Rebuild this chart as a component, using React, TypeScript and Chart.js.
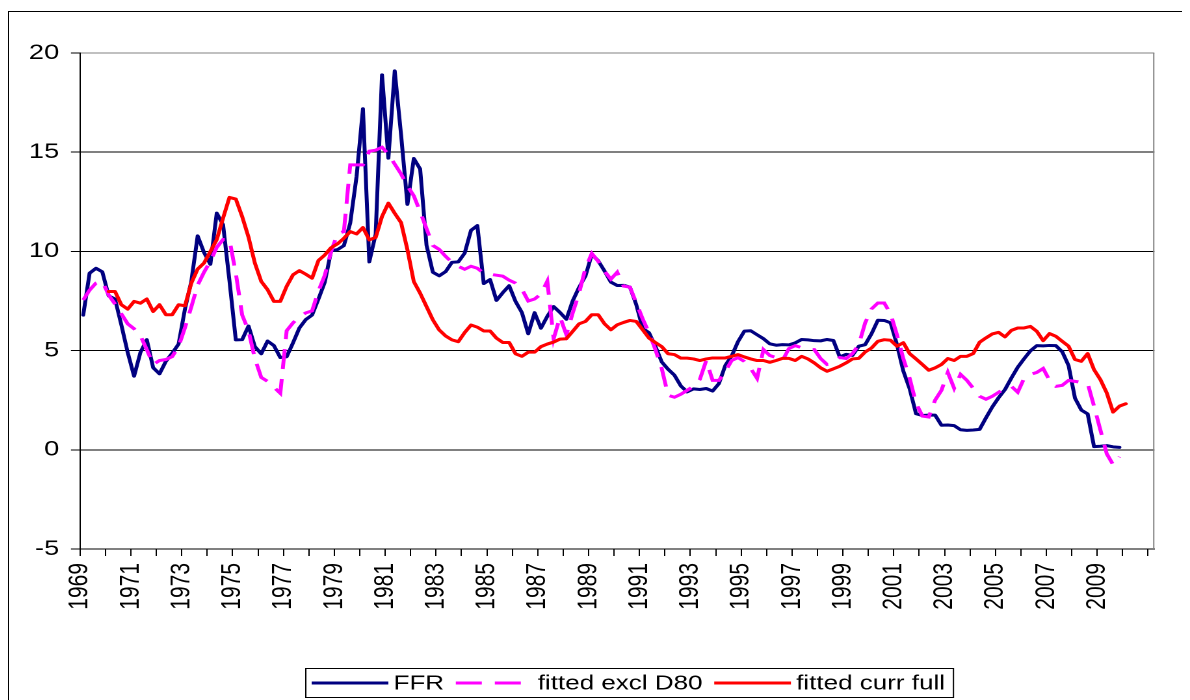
import React, { useEffect, useRef } from "react";
import { Chart, registerables } from "chart.js";

Chart.register(...registerables);

// ---- data (quarterly, first observation = 1969 Q1) ----
const quarterSlots = 169; // category slots on the x axis
const yearTickLabels = [
  "1969", "1971", "1973", "1975", "1977", "1979", "1981", "1983", "1985", "1987", "1989",
  "1991", "1993", "1995", "1997", "1999", "2001", "2003", "2005", "2007", "2009",
];
const yMin = -5;
const yMax = 20;
const yStep = 5;

const seriesNames = ["FFR", "fitted excl D80", "fitted curr full"];

const ffr = [
  6.79, 8.9, 9.15, 8.97,
  7.76, 7.6, 6.29, 4.9,
  3.71, 4.91, 5.55, 4.14,
  3.83, 4.46, 4.87, 5.33,
  7.09, 8.49, 10.78, 9.95,
  9.35, 11.93, 11.34, 8.53,
  5.54, 5.55, 6.24, 5.2,
  4.84, 5.48, 5.25, 4.65,
  4.69, 5.39, 6.14, 6.56,
  6.79, 7.6, 8.45, 10.03,
  10.09, 10.29, 11.43, 13.78,
  17.19, 9.47, 10.87, 18.9,
  14.7, 19.1, 15.87, 12.37,
  14.68, 14.15, 10.31, 8.95,
  8.77, 8.98, 9.45, 9.47,
  9.91, 11.06, 11.3, 8.38,
  8.58, 7.53, 7.92, 8.27,
  7.48, 6.92, 5.85, 6.91,
  6.13, 6.73, 7.22, 6.92,
  6.58, 7.51, 8.19, 8.76,
  9.85, 9.53, 9.01, 8.45,
  8.28, 8.29, 8.2, 7.31,
  6.12, 5.9, 5.22, 4.43,
  4.06, 3.76, 3.22, 2.92,
  3.07, 3.04, 3.09, 2.96,
  3.34, 4.25, 4.73, 5.45,
  5.98, 6.0, 5.8, 5.6,
  5.34, 5.27, 5.3, 5.29,
  5.39, 5.56, 5.54, 5.5,
  5.49, 5.56, 5.51, 4.68,
  4.81, 4.76, 5.22, 5.3,
  5.85, 6.53, 6.52, 6.4,
  5.31, 3.97, 3.07, 1.82,
  1.73, 1.75, 1.75, 1.24,
  1.25, 1.22, 1.01, 0.98,
  1.0, 1.03, 1.61, 2.16,
  2.63, 3.04, 3.62, 4.16,
  4.59, 4.99, 5.25, 5.24,
  5.26, 5.25, 4.94, 4.24,
  2.61, 2.0, 1.81, 0.16,
  0.18, 0.21, 0.15, 0.12,
];

const fittedExclD80 = [
  7.55, 8.05, 8.4, 8.5,
  7.8, 7.35, 6.85, 6.35,
  6.1, 5.75, 5.05, 4.3,
  4.5, 4.55, 4.7, 5.2,
  6.15, 7.2, 8.3, 8.95,
  9.5, 10.2, 10.6, 10.6,
  8.9, 6.8, 6.0, 4.6,
  3.65, 3.45, 3.15, 2.85,
  6.0, 6.4, 6.7, 6.9,
  7.0, 8.0, 8.8, 10.0,
  10.9, 11.0, 14.36, 14.36,
  14.36, 15.05, 15.1, 15.25,
  14.9, 14.4, 13.9, 13.3,
  12.8, 12.0, 11.15, 10.3,
  10.1, 9.75, 9.45, 9.25,
  9.1, 9.25, 9.15, 8.9,
  8.85, 8.8, 8.75, 8.55,
  8.4, 8.1, 7.5, 7.6,
  7.85, 8.5, 5.6, 6.7,
  5.8, 6.9, 7.9, 9.15,
  9.9, 9.5, 9.0, 8.6,
  8.95, 8.25, 8.2, 7.4,
  6.6, 5.9, 5.05, 4.1,
  2.75, 2.65, 2.8, 3.0,
  3.2, 3.55, 4.5, 3.5,
  3.5, 3.95, 4.5, 4.65,
  4.45, 4.1, 3.6, 5.05,
  4.75, 4.65, 4.5, 5.1,
  5.25, 5.15, 5.05, 5.05,
  4.6, 4.3, 4.4, 4.65,
  4.6, 4.85, 5.3, 6.4,
  7.1, 7.4, 7.4, 6.85,
  5.8, 4.6, 3.6, 2.35,
  1.7, 1.65, 2.5, 3.0,
  3.9, 3.1, 3.8, 3.5,
  3.1, 2.7, 2.55, 2.7,
  2.9, 3.1, 3.2, 2.9,
  3.6, 3.8, 3.9, 4.1,
  3.5, 3.2, 3.25, 3.5,
  3.45, 3.4, 3.35, 2.2,
  1.0, -0.2, -0.75, -0.35,
];

const fittedCurrFull = [
  null, null, null, null,
  7.98, 7.98, 7.31, 7.09,
  7.48, 7.39, 7.6, 6.97,
  7.31, 6.81, 6.81, 7.31,
  7.26, 8.4, 9.11, 9.41,
  10.0, 10.59, 11.68, 12.72,
  12.64, 11.76, 10.72, 9.41,
  8.49, 8.07, 7.48, 7.48,
  8.24, 8.82, 9.03, 8.85,
  8.65, 9.54, 9.82, 10.19,
  10.38, 10.66, 11.0, 10.88,
  11.2, 10.58, 10.7, 11.76,
  12.43, 11.92, 11.45, 10.08,
  8.48, 7.89, 7.22, 6.55,
  6.04, 5.74, 5.54, 5.45,
  5.91, 6.29, 6.18, 5.99,
  5.99, 5.63, 5.41, 5.41,
  4.84, 4.71, 4.92, 4.92,
  5.2, 5.33, 5.43, 5.58,
  5.6, 5.97, 6.35, 6.47,
  6.81, 6.81, 6.35, 6.05,
  6.3, 6.42, 6.52, 6.47,
  6.05, 5.63, 5.41, 5.2,
  4.84, 4.8, 4.62, 4.62,
  4.58, 4.5, 4.58, 4.63,
  4.63, 4.63, 4.71, 4.8,
  4.68, 4.58, 4.5, 4.5,
  4.41, 4.5, 4.61, 4.61,
  4.5, 4.71, 4.58, 4.38,
  4.13, 3.96, 4.08, 4.21,
  4.38, 4.58, 4.61, 4.93,
  5.13, 5.47, 5.55, 5.52,
  5.22, 5.4, 4.85, 4.58,
  4.3, 4.01, 4.13, 4.3,
  4.6, 4.5, 4.71, 4.71,
  4.85, 5.42, 5.64, 5.84,
  5.92, 5.69, 6.02, 6.14,
  6.14, 6.22, 5.97, 5.5,
  5.86, 5.72, 5.47, 5.22,
  4.55, 4.46, 4.85, 4.04,
  3.54, 2.87, 1.9, 2.2,
  2.32,
];

// ---- layout (internal canvas units; the picture is stretched horizontally) ----
const PAGE_W = 1182;
const PAGE_H = 692;
const CANVAS_W = 909;
const STRETCH = PAGE_W / CANVAS_W;
const FONT = '"Liberation Sans", Arial, Helvetica, sans-serif';

const toPoints = (arr: (number | null)[]) => arr.map((v, i) => ({ x: i + 0.5, y: v }));

const plotFramePlugin = {
  id: "plotFrame",
  beforeDatasetsDraw(chart: any) {
    const { ctx, chartArea: a } = chart;
    ctx.save();
    ctx.strokeStyle = "#808080";
    ctx.lineWidth = 1;
    ctx.beginPath();
    ctx.moveTo(a.right - 0.5, a.top);
    ctx.lineTo(a.right - 0.5, a.bottom);
    ctx.stroke();
    ctx.restore();
  },
};

const boxLegendPlugin = {
  id: "boxLegend",
  afterDraw(chart: any) {
    const ctx = chart.ctx;
    const left = 228.5;
    const top = 660;
    const h = 29;
    const lineLen = 59;
    const gapLineText = 4;
    const gapTextLine = 9;
    const padL = 5;
    const padR = 6;
    ctx.save();
    ctx.font = `20px ${FONT}`;
    const items = chart.data.datasets.map((ds: any) => ({
      text: ds.label,
      color: ds.borderColor,
      dash: ds.borderDash || [],
      w: ctx.measureText(ds.label).width,
    }));
    let total = padL + padR;
    items.forEach((it: any, k: number) => {
      total += lineLen + gapLineText + it.w + (k < items.length - 1 ? gapTextLine : 0);
    });
    ctx.strokeStyle = "#000";
    ctx.lineWidth = 1;
    ctx.setLineDash([]);
    ctx.strokeRect(left + 0.5, top + 0.5, total, h);
    const cy = top + h / 2 + 0.5;
    let x = left + padL;
    items.forEach((it: any) => {
      ctx.beginPath();
      ctx.setLineDash(it.dash);
      ctx.strokeStyle = it.color;
      ctx.lineWidth = 3;
      ctx.lineCap = "butt";
      ctx.moveTo(x, cy);
      ctx.lineTo(x + lineLen, cy);
      ctx.stroke();
      ctx.setLineDash([]);
      x += lineLen + gapLineText;
      ctx.fillStyle = "#000";
      ctx.textBaseline = "middle";
      ctx.textAlign = "left";
      ctx.fillText(it.text, x, cy + 1);
      x += it.w + gapTextLine;
    });
    ctx.restore();
  },
};

export default function App() {
  const canvasRef = useRef<HTMLCanvasElement | null>(null);

  useEffect(() => {
    if (!canvasRef.current) return;
    const xTickValues: number[] = [];
    for (let v = 0; v < quarterSlots; v += 4) xTickValues.push(v);

    const chart = new Chart(canvasRef.current, {
      type: "line",
      data: {
        datasets: [
          {
            label: seriesNames[0],
            data: toPoints(ffr),
            borderColor: "#000080",
            backgroundColor: "#000080",
            borderWidth: 3,
            pointRadius: 0,
            borderJoinStyle: "round",
            borderCapStyle: "round",
            tension: 0,
            order: 3,
          },
          {
            label: seriesNames[1],
            data: toPoints(fittedExclD80),
            borderColor: "#FF00FF",
            backgroundColor: "#FF00FF",
            borderWidth: 3,
            borderDash: [20, 10],
            pointRadius: 0,
            borderJoinStyle: "miter",
            borderCapStyle: "butt",
            tension: 0,
            order: 2,
          },
          {
            label: seriesNames[2],
            data: toPoints(fittedCurrFull),
            borderColor: "#FF0000",
            backgroundColor: "#FF0000",
            borderWidth: 3,
            pointRadius: 0,
            borderJoinStyle: "round",
            borderCapStyle: "round",
            tension: 0,
            order: 1,
          },
        ],
      },
      options: {
        responsive: false,
        animation: false,
        devicePixelRatio: 2,
        events: [],
        layout: { padding: { left: 0, right: CANVAS_W - 898.5, top: 45, bottom: 0 } },
        plugins: {
          legend: { display: false },
          tooltip: { enabled: false },
        },
        scales: {
          x: {
            type: "linear",
            min: 0,
            max: quarterSlots,
            bounds: "data",
            border: { display: true, color: "#000", width: 1 },
            grid: {
              drawOnChartArea: false,
              drawTicks: true,
              tickLength: 7,
              tickColor: "#000",
              tickWidth: 1,
            },
            ticks: {
              autoSkip: false,
              minRotation: 90,
              maxRotation: 90,
              padding: 7,
              color: "#000",
              font: { family: FONT, size: 21 },
              callback: (value: any) => {
                const v = Number(value);
                if (v % 8 !== 0) return "";
                return yearTickLabels[v / 8] ?? "";
              },
            },
            afterBuildTicks: (scale: any) => {
              scale.ticks = xTickValues.map((v) => ({ value: v }));
            },
            afterFit: (scale: any) => {
              scale.height = PAGE_H - 541;
            },
          },
          y: {
            type: "linear",
            min: yMin,
            max: yMax,
            border: { display: true, color: "#000", width: 1 },
            grid: {
              color: (c: any) => (c.tick && c.tick.value === yMax ? "#808080" : "#000000"),
              lineWidth: 1,
              drawTicks: true,
              tickLength: 7,
              tickColor: "#000",
              tickWidth: 1,
            },
            ticks: {
              stepSize: yStep,
              padding: 9,
              color: "#000",
              font: { family: FONT, size: 21 },
            },
            afterFit: (scale: any) => {
              scale.width = 55.4;
            },
          },
        },
      },
      plugins: [plotFramePlugin, boxLegendPlugin],
    } as any);

    return () => chart.destroy();
  }, []);

  return (
    <div style={{ position: "relative", width: PAGE_W, height: PAGE_H, overflow: "hidden" }}>
      <div
        style={{
          position: "absolute",
          left: 0,
          top: 3,
          width: 1400,
          height: 900,
          border: "1px solid #000",
          boxSizing: "border-box",
        }}
      />
      <div
        style={{
          position: "absolute",
          left: 0,
          top: 0,
          width: CANVAS_W,
          height: PAGE_H,
          transform: `scaleX(${STRETCH})`,
          transformOrigin: "0 0",
        }}
      >
        <canvas
          ref={canvasRef}
          width={CANVAS_W}
          height={PAGE_H}
          style={{ width: CANVAS_W, height: PAGE_H, display: "block" }}
        />
      </div>
    </div>
  );
}
